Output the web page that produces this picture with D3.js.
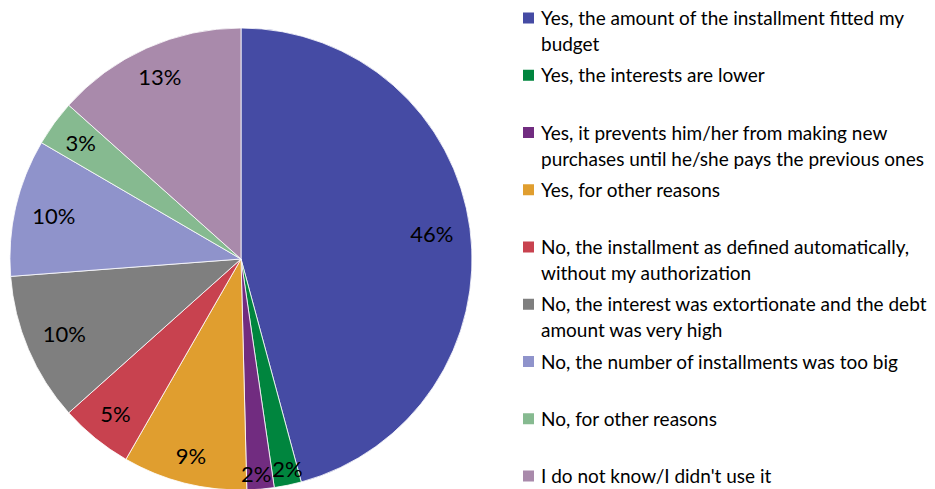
<!DOCTYPE html>
<html>
<head>
<meta charset="utf-8">
<script src="https://cdn.jsdelivr.net/npm/d3@7"></script>
<style>
  html, body { margin: 0; padding: 0; background: #ffffff; }
  svg { display: block; }
  text { font-family: "Lato", "Open Sans", sans-serif; fill: #000; }
</style>
</head>
<body>
<svg id="chart" width="935" height="489"></svg>
<script>
const categories = [
  ["Yes, the amount of the installment fitted my", "budget"],
  ["Yes, the interests are lower"],
  ["Yes, it prevents him/her from making new", "purchases until he/she pays the previous ones"],
  ["Yes, for other reasons"],
  ["No, the installment as defined automatically,", "without my authorization"],
  ["No, the interest was extortionate and the debt", "amount was very high"],
  ["No, the number of installments was too big"],
  ["No, for other reasons"],
  ["I do not know/I didn't use it"]
];
const values = [45.8, 1.9, 1.9, 8.7, 5.1, 10.4, 9.6, 3.2, 13.4];
const colors = ["#454BA4", "#00853E", "#712C80", "#E09E2F", "#C8424F", "#7F7F7F", "#8F93CB", "#86BA90", "#A98AAB"];

const svg = d3.select("#chart");
const cx = 241, cy = 259, R = 231;

const data = values.map((v, i) => ({ value: v, label: categories[i], color: colors[i] }));

const pie = d3.pie().value(d => d.value).sort(null);
const arcs = pie(data);
const arc = d3.arc().innerRadius(0).outerRadius(R);

const g = svg.append("g").attr("transform", `translate(${cx},${cy})`);

g.selectAll("path.slice")
  .data(arcs)
  .enter().append("path")
  .attr("class", "slice")
  .attr("d", arc)
  .attr("fill", d => d.data.color)
  .attr("stroke", "#ffffff")
  .attr("stroke-width", 0.8);

// Data labels placed inside, with the label box kept a fixed inset from the rim
const labels = g.selectAll("text.lbl")
  .data(arcs)
  .enter().append("text")
  .attr("class", "lbl")
  .attr("text-anchor", "middle")
  .attr("dy", "0.36em")
  .style("font-size", "22px")
  .text(d => Math.round(d.data.value) + "%");

const pos = [];
labels.each(function(d, i) {
  const bb = this.getBBox();
  const hw = bb.width / 2, hh = 8;
  const a = (d.startAngle + d.endAngle) / 2;
  const proj = hw * Math.abs(Math.sin(a)) + hh * Math.abs(Math.cos(a));
  let r = R - 16 - proj;
  if (d.data.value < 2.5) r += 10;
  const c = d3.arc().innerRadius(r).outerRadius(r).centroid(d);
  pos.push({ x: c[0], y: c[1], hw: hw });
});
// simple horizontal de-overlap between neighbouring labels
for (let i = 1; i < pos.length; i++) {
  const p = pos[i - 1], q = pos[i];
  if (Math.abs(p.y - q.y) < 16) {
    const gap = (p.hw + q.hw) - Math.abs(p.x - q.x) + 1;
    if (gap > 0) {
      const s = p.x > q.x ? 1 : -1;
      p.x += s * gap / 2;
      q.x -= s * gap / 2;
    }
  }
}
labels.attr("transform", (d, i) => `translate(${pos[i].x},${pos[i].y})`);

// Legend
const ly = d3.scaleLinear().domain([0, categories.length - 1]).range([18, 476]);
const legend = svg.append("g");
const items = legend.selectAll("g.item")
  .data(data)
  .enter().append("g")
  .attr("class", "item")
  .attr("transform", (d, i) => `translate(523,${ly(i)})`);

items.append("rect")
  .attr("x", 0).attr("y", -5.5)
  .attr("width", 11).attr("height", 11)
  .attr("fill", d => d.color);

items.each(function(d) {
  const t = d3.select(this).append("text")
    .attr("x", 18)
    .attr("y", 0)
    .style("font-size", "19px");
  d.label.forEach((line, j) => {
    t.append("tspan")
      .attr("x", 18)
      .attr("y", j * 26)
      .attr("dy", "0.38em")
      .text(line);
  });
});
</script>
</body>
</html>
